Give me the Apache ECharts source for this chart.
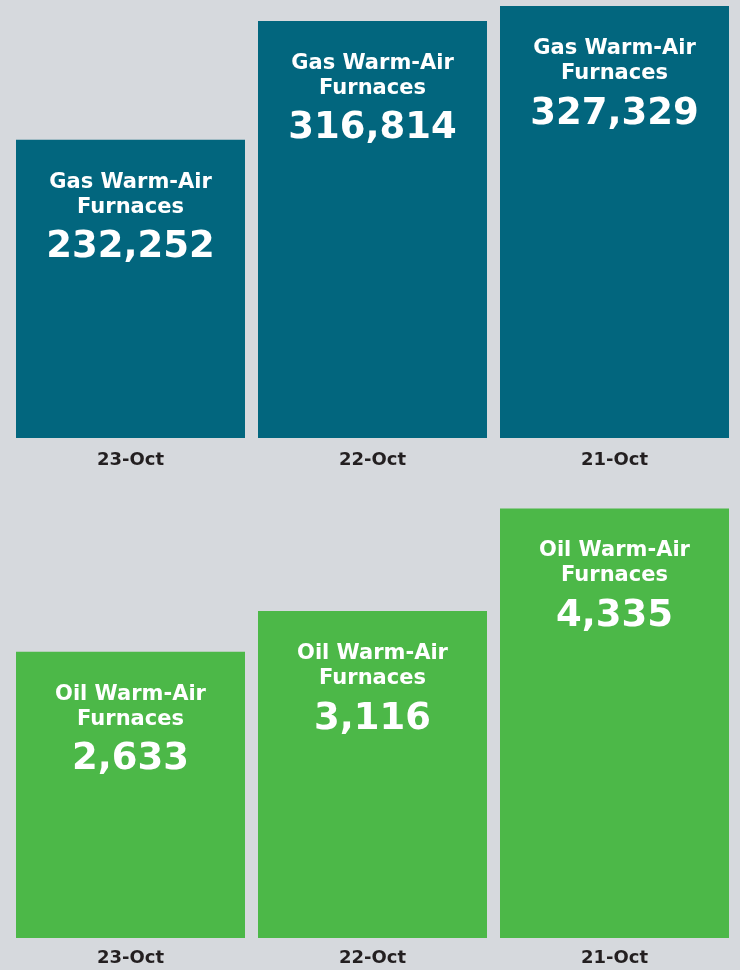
<!DOCTYPE html>
<html>
<head>
<meta charset="utf-8">
<script src="https://cdn.jsdelivr.net/npm/echarts@6/dist/echarts.min.js"></script>
<style>
  html, body { margin: 0; padding: 0; background: #d6d9dd; }
  #chart { width: 740px; height: 970px; }
</style>
</head>
<body>
<div id="chart"></div>
<script>
// data
const months = ['23-Oct', '22-Oct', '21-Oct'];
const gasValues = [232252, 316814, 327329];
const oilValues = [2633, 3116, 4335];
const gasName = 'Gas Warm-Air\nFurnaces';
const oilName = 'Oil Warm-Air\nFurnaces';

const chart = echarts.init(document.getElementById('chart'));

const fmt = (v) => v.toLocaleString('en-US');

const makeLabel = (name) => ({
  show: true,
  position: 'insideTop',
  distance: 30,
  align: 'center',
  formatter: (p) => {
    const lines = name.split('\n').map((s) => '{t|' + s + '}').join('\n');
    return lines + '\n{v|' + fmt(p.value) + '}';
  },
  rich: {
    t: {
      color: '#fff',
      fontFamily: 'DejaVu Sans',
      fontWeight: 'bold',
      fontSize: 21,
      lineHeight: 25,
    },
    v: {
      color: '#fff',
      fontFamily: 'DejaVu Sans',
      fontWeight: 'bold',
      fontSize: 37,
      lineHeight: 56,
    },
  },
});

const xAxisBase = {
  type: 'category',
  data: months,
  axisLine: { show: false },
  axisTick: { show: false },
  axisLabel: {
    color: '#231f20',
    fontFamily: 'DejaVu Sans',
    fontWeight: 'bold',
    fontSize: 18,
  },
};

const option = {
  backgroundColor: '#d6d9dd',
  animation: false,
  grid: [
    { left: 9.5, right: 4.5, top: 6, height: 432 },
    { left: 9.5, right: 4.5, top: 508, height: 430 },
  ],
  xAxis: [
    { ...xAxisBase, gridIndex: 0, axisLabel: { ...xAxisBase.axisLabel, margin: 13 } },
    { ...xAxisBase, gridIndex: 1, axisLabel: { ...xAxisBase.axisLabel, margin: 11 } },
  ],
  yAxis: [
    { type: 'value', gridIndex: 0, min: 20000, max: 327400, show: false, splitLine: { show: false } },
    { type: 'value', gridIndex: 1, min: -765, max: 4340, startValue: -765, show: false, splitLine: { show: false } },
  ],
  series: [
    {
      type: 'bar',
      xAxisIndex: 0,
      yAxisIndex: 0,
      data: gasValues,
      barWidth: 229,
      itemStyle: { color: '#02667e' },
      label: makeLabel(gasName),
    },
    {
      type: 'bar',
      xAxisIndex: 1,
      yAxisIndex: 1,
      data: oilValues,
      barWidth: 229,
      itemStyle: { color: '#4cb848' },
      label: makeLabel(oilName),
    },
  ],
};

chart.setOption(option);
</script>
</body>
</html>
